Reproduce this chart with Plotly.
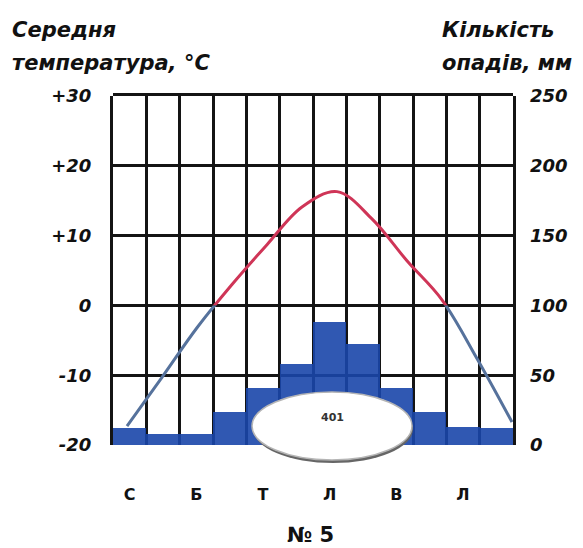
import plotly.graph_objects as go

# ---- data ----
months = list(range(1, 13))
precip_mm = [12, 8, 8, 24, 41, 58, 88, 72, 41, 24, 13, 12]
temp_c = [-17.3, -10.3, -3.2, 3.0, 8.7, 14.1, 16.3, 12.4, 6.4, 0.8, -7.6, -16.7]
month_tick_vals = [1, 3, 5, 7, 9, 11]
month_tick_text = ["С", "Б", "Т", "Л", "В", "Л"]
temp_ticks = [-20, -10, 0, 10, 20, 30]
temp_tick_text = ["-20", "-10", "0", "+10", "+20", "+30"]
precip_ticks = [0, 50, 100, 150, 200, 250]
precip_tick_text = ["0", "50", "100", "150", "200", "250"]
total_precip = sum(precip_mm)

FONT = "DejaVu Sans"
GRID = "#141414"

fig = go.Figure()

# empty trace so the left temperature axis (x/y subplot) is created
fig.add_trace(go.Scatter(x=[], y=[], xaxis="x", yaxis="y", mode="lines",
                         hoverinfo="skip", showlegend=False))
fig.add_trace(go.Bar(
    x=months, y=precip_mm, xaxis="x", yaxis="y2", width=1,
    marker=dict(color="#1a46aa", line=dict(width=0)), opacity=0.9,
    hoverinfo="skip", showlegend=False,
))
# red part (above 0) and blue part (below 0): clipped by their subplot domains
fig.add_trace(go.Scatter(
    x=months, y=temp_c, xaxis="x3", yaxis="y3", mode="lines",
    line=dict(color="#cf3557", width=3, shape="spline", smoothing=1.0),
    hoverinfo="skip", showlegend=False,
))
fig.add_trace(go.Scatter(
    x=months, y=temp_c, xaxis="x4", yaxis="y4", mode="lines",
    line=dict(color="#56729c", width=3, shape="spline", smoothing=1.0),
    hoverinfo="skip", showlegend=False,
))

tickfont = dict(family=FONT, size=18, color="#111", weight="bold", style="italic")
line_range = [0.6, 12.03]

fig.update_layout(
    width=575, height=540,
    margin=dict(l=105, r=70, t=88, b=103),
    paper_bgcolor="white", plot_bgcolor="rgba(0,0,0,0)",
    bargap=0,
    xaxis=dict(
        domain=[0, 1], range=[0.5, 12.5], anchor="y",
        tickmode="array", tickvals=month_tick_vals, ticktext=month_tick_text,
        tickfont=dict(family=FONT, size=16, color="#111", weight="bold"),
        ticks="", showgrid=False, zeroline=False, showline=False,
        ticklabelstandoff=38,
        minor=dict(tickmode="linear", tick0=0.5, dtick=1, showgrid=True,
                   gridcolor=GRID, gridwidth=2.5, ticks=""),
    ),
    yaxis=dict(
        domain=[0, 1], range=[-20, 30], anchor="x",
        tickmode="array", tickvals=temp_ticks, ticktext=temp_tick_text,
        tickfont=tickfont, ticks="", ticklabelstandoff=15,
        showgrid=True, gridcolor=GRID, gridwidth=2.5, zeroline=False,
        showline=True, linecolor=GRID, linewidth=3, mirror=True,
    ),
    yaxis2=dict(
        overlaying="y", side="right", range=[0, 250], anchor="x",
        tickmode="array", tickvals=precip_ticks, ticktext=precip_tick_text,
        tickfont=tickfont, ticks="", ticklabelstandoff=16,
        showgrid=False, zeroline=False, showline=False,
    ),
    xaxis3=dict(domain=[0, 1], range=line_range, anchor="y3", side="top",
                showline=True, linecolor=GRID, linewidth=3, showgrid=False,
                showticklabels=False, ticks="", zeroline=False),
    yaxis3=dict(domain=[0.4, 1], range=[0, 30], anchor="x3", visible=False),
    xaxis4=dict(domain=[0, 1], range=line_range, anchor="y4", visible=False),
    yaxis4=dict(domain=[0, 0.4], range=[-20, 0], anchor="x4", visible=False),
)

# total-precipitation ellipse (shadow + white body)
ell_x = 0.5475
fig.add_shape(type="circle", xref="paper", yref="paper", xsizemode="pixel", ysizemode="pixel",
              xanchor=ell_x, yanchor=0, x0=-79, x1=81, y0=-18, y1=50,
              fillcolor="#666666", line=dict(width=0), layer="above")
fig.add_shape(type="circle", xref="paper", yref="paper", xsizemode="pixel", ysizemode="pixel",
              xanchor=ell_x, yanchor=0, x0=-80, x1=80, y0=-15, y1=53,
              fillcolor="white", line=dict(color="#b5b5b5", width=1.5), layer="above")
fig.add_annotation(x=ell_x, y=0, xref="paper", yref="paper", yshift=19,
                   text=f"<b>{total_precip}</b>", showarrow=False,
                   font=dict(family=FONT, size=11, color="#333"))

title_font = dict(family=FONT, size=21, color="#111", weight="bold", style="italic")
fig.add_annotation(xref="paper", yref="paper", x=-0.258, y=1.189, xanchor="left", yanchor="middle",
                   text="Середня", showarrow=False, font=title_font)
fig.add_annotation(xref="paper", yref="paper", x=-0.258, y=1.095, xanchor="left", yanchor="middle",
                   text="температура, °С", showarrow=False, font=title_font)
fig.add_annotation(xref="paper", yref="paper", x=0.8175, y=1.189, xanchor="left", yanchor="middle",
                   text="Кількість", showarrow=False, font=title_font)
fig.add_annotation(xref="paper", yref="paper", x=0.8175, y=1.095, xanchor="left", yanchor="middle",
                   text="опадів, мм", showarrow=False, font=title_font)
fig.add_annotation(xref="paper", yref="paper", x=0.4925, y=-0.258, xanchor="center", yanchor="middle",
                   text="№ 5", showarrow=False,
                   font=dict(family=FONT, size=21, color="#111", weight="bold"))

fig.write_html("out.html")
